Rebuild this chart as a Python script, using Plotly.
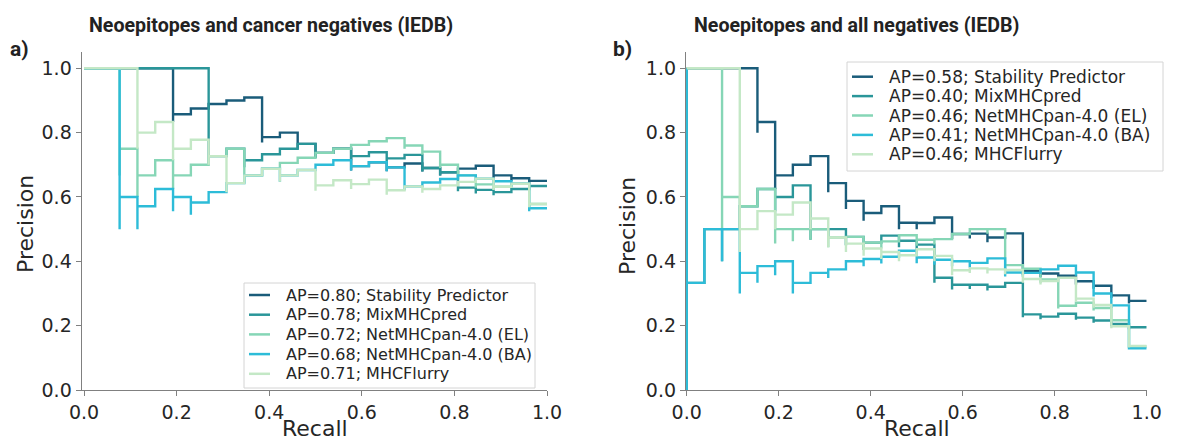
import plotly.graph_objects as go

# ---------------- data ----------------
# recall grid: steps of one positive out of 26
RECALL = [0.0, 0.0385, 0.0769, 0.1154, 0.1538, 0.1923, 0.2308, 0.2692, 0.3077,
          0.3462, 0.3846, 0.4231, 0.4615, 0.5, 0.5385, 0.5769, 0.6154, 0.6538,
          0.6923, 0.7308, 0.7692, 0.8077, 0.8462, 0.8846, 0.9231, 0.9615, 1.0]

MODELS = ["Stability Predictor", "MixMHCpred", "NetMHCpan-4.0 (EL)",
          "NetMHCpan-4.0 (BA)", "MHCFlurry"]
COLORS = ["#1a5c7a", "#2a9699", "#86d6b6", "#2dbcd8", "#c4e8c6"]

AP_A = ["0.80", "0.78", "0.72", "0.68", "0.71"]
AP_B = ["0.58", "0.40", "0.46", "0.41", "0.46"]

# panel a) precision held on each recall step (k-1, k], and dips at recall k
a_stab_lvl = [1, 1, 1, 1, 1, .857, .875, .889, .9, .909, .786, .8, .765, .737, .75,
              .696, .708, .692, .704, .690, .677, .688, .697, .667, .658, .65]
a_stab_dip = {5: .833, 10: .769, 12: .75, 13: .722, 15: .682, 17: .68, 19: .679,
              20: .667, 23: .657, 24: .649, 25: .641}
a_mix_lvl = [1, 1, 1, 1, 1, 1, 1, .727, .75, .714, .733, .75, .765, .737, .75,
             .727, .739, .72, .731, .69, .677, .629, .622, .615, .625, .634]
a_mix_dip = {7: .7, 9: .692, 13: .722, 15: .714, 17: .708, 19: .679, 20: .667,
             21: .618, 22: .611, 23: .605}
a_el_lvl = [1, 1, .75, .667, .714, .667, .7, .727, .75, .667, .6875, .706, .722,
            .737, .75, .762, .773, .783, .76, .741, .7, .667, .639, .632, .641, .578]
a_el_dip = {2: .667, 3: .6, 5: .625, 9: .643, 18: .75, 19: .731, 20: .69,
            21: .656, 22: .629, 23: .622, 25: .568}
a_ba_lvl = [1, 1, .6, .571, .625, .6, .583, .615, .643, .667, .6875, .667, .684,
            .7, .714, .696, .708, .692, .633, .645, .656, .667, .657, .649, .641, .565]
a_ba_dip = {2: .5, 3: .5, 5: .556, 6: .545, 11: .647, 15: .682, 17: .68, 18: .621,
            22: .647, 23: .639, 24: .632, 25: .556}
a_flu_lvl = [1, 1, 1, .8, .833, .75, .778, .727, .643, .667, .6875, .667, .684,
             .636, .652, .64, .654, .621, .633, .625, .636, .647, .657, .632, .641, .578]
a_flu_dip = {3: .75, 5: .714, 7: .7, 8: .615, 11: .647, 13: .619, 15: .625,
             17: .607, 19: .613, 23: .622, 25: .568}

# panel b)
b_stab_lvl = [1, 1, 1, 1, .833, .667, .7, .727, .643, .588, .55, .571, .52, .519,
              .536, .485, .486, .474, .487, .37, .362, .355, .338, .324, .294, .277]
b_stab_dip = {4: .8, 5: .625, 8: .615, 9: .5625, 10: .526, 12: .5, 13: .5, 15: .469,
              16: .471, 17: .459, 19: .358, 20: .351, 21: .344, 22: .328, 23: .315,
              24: .286, 25: .269}
b_mix_lvl = [.333, .5, .5, .571, .625, .6, .636, .5, .5, .476, .458, .48, .464, .452,
             .349, .327, .327, .321, .333, .235, .228, .237, .225, .216, .205, .195]
b_mix_dip = {0: 0.0, 2: .4, 5: .556, 7: .467, 8: .471, 9: .45, 10: .435, 12: .444,
             13: .433, 14: .333, 15: .3125, 16: .314, 17: .309, 19: .226, 20: .22,
             22: .218, 23: .209, 24: .198, 25: .189}
b_el_lvl = [1, 1, .6, .571, .625, .5, .5, .5, .474, .476, .458, .462, .481, .467,
            .469, .485, .5, .5, .388, .377, .344, .262, .271, .255, .217, .135]
b_el_dip = {2: .5, 3: .5, 5: .455, 6: .462, 7: .467, 8: .444, 9: .45, 10: .435,
            11: .44, 13: .448, 14: .452, 17: .486, 18: .375, 19: .365, 20: .333,
            21: .253, 23: .247, 24: .211, 25: .13}
b_ba_lvl = [.333, .5, .5, .364, .385, .4, .333, .364, .375, .4, .407, .414, .433,
            .412, .405, .4, .395, .409, .365, .364, .375, .386, .365, .3, .263, .13]
b_ba_dip = {0: 0.0, 2: .4, 3: .3, 4: .333, 5: .357, 6: .3, 8: .348, 10: .385,
            11: .393, 13: .394, 14: .389, 15: .385, 16: .381, 18: .353, 19: .352,
            22: .355, 23: .291, 24: .255, 25: .126}
b_flu_lvl = [1, 1, 1, .5, .556, .545, .583, .533, .474, .455, .44, .429, .419,
             .4375, .417, .372, .378, .375, .373, .345, .339, .349, .284, .264, .198, .137]
b_flu_dip = {3: .429, 5: .5, 7: .5, 8: .444, 9: .429, 10: .417, 11: .407, 12: .4,
             14: .4, 15: .357, 16: .364, 17: .362, 18: .36, 19: .333, 20: .328,
             22: .275, 23: .256, 24: .192, 25: .132}

PANEL_A = [(a_stab_lvl, a_stab_dip), (a_mix_lvl, a_mix_dip), (a_el_lvl, a_el_dip),
           (a_ba_lvl, a_ba_dip), (a_flu_lvl, a_flu_dip)]
PANEL_B = [(b_stab_lvl, b_stab_dip), (b_mix_lvl, b_mix_dip), (b_el_lvl, b_el_dip),
           (b_ba_lvl, b_ba_dip), (b_flu_lvl, b_flu_dip)]


def pr_points(levels, dips):
    xs, ys = [RECALL[0]], [1.0]
    for k in range(1, len(RECALL)):
        if (k - 1) in dips:
            xs.append(RECALL[k - 1])
            ys.append(dips[k - 1])
        xs.append(RECALL[k])
        ys.append(levels[k - 1])
    return xs, ys


# the page body keeps its default 8 px margin, so the figure is drawn 8 px in
OFF = 8
W, H = 1178, 436
TXT = "#262626"
AXC = "#808080"
TICKFONT = dict(family="DejaVu Sans", size=19, color=TXT)


def px(x):
    return (x - OFF) / W


def py(y):
    return 1 - (y - OFF) / H


fig = go.Figure()
for panel, aps, xa, ya in [(PANEL_A, AP_A, "x", "y"), (PANEL_B, AP_B, "x2", "y2")]:
    for i, (lvl, dip) in enumerate(panel):
        xs, ys = pr_points(lvl, dip)
        fig.add_trace(go.Scatter(
            x=xs, y=ys, mode="lines", line=dict(color=COLORS[i], width=2.4, shape="vh"),
            name=f"AP={aps[i]}; {MODELS[i]}", xaxis=xa, yaxis=ya,
            showlegend=False, hoverinfo="skip"))

ticks = [0, 0.2, 0.4, 0.6, 0.8, 1.0]
ticktext = ["0.0", "0.2", "0.4", "0.6", "0.8", "1.0"]
ax_common = dict(tickvals=ticks, ticktext=ticktext, ticks="outside", ticklen=5,
                 tickwidth=1.2, tickcolor=AXC, showline=True, linecolor=AXC,
                 linewidth=1.3, showgrid=False, zeroline=False, tickfont=TICKFONT,
                 automargin=False)
ydom = [py(390), py(52.2)]

fig.update_layout(
    width=W, height=H, autosize=False,
    margin=dict(l=0, r=0, t=0, b=0, pad=0),
    paper_bgcolor="white", plot_bgcolor="white",
    xaxis=dict(domain=[px(81.7), px(547)], range=[-0.005, 1.0], anchor="y", **ax_common),
    yaxis=dict(domain=ydom, range=[0, 1.05], anchor="x", **ax_common),
    xaxis2=dict(domain=[px(686), px(1146.7)], range=[-0.0015, 1.0], anchor="y2", **ax_common),
    yaxis2=dict(domain=ydom, range=[0, 1.05], anchor="x2", **ax_common),
    showlegend=False,
)

# ---- axis titles ----
lab_font = dict(family="DejaVu Sans", size=22, color=TXT)
for cx in (315, 916.7):
    fig.add_annotation(text="Recall", x=px(cx), y=py(443), xref="paper", yref="paper",
                       showarrow=False, font=lab_font, xanchor="center", yanchor="bottom")
for cx, cy in ((25, 224), (627, 226)):
    fig.add_annotation(text="Precision", x=px(cx), y=py(cy), xref="paper", yref="paper",
                       showarrow=False, font=lab_font, textangle=-90,
                       xanchor="center", yanchor="middle")

# ---- panel titles and letters ----
title_font = dict(family="Roboto", size=19.6, color="#222222")
fig.add_annotation(text="<b>Neoepitopes and cancer negatives (IEDB)</b>", x=px(271), y=py(25),
                   xref="paper", yref="paper", showarrow=False, font=title_font,
                   xanchor="center", yanchor="middle")
fig.add_annotation(text="<b>Neoepitopes and all negatives (IEDB)</b>", x=px(856), y=py(25),
                   xref="paper", yref="paper", showarrow=False, font=title_font,
                   xanchor="center", yanchor="middle")
for lab, cx in (("a)", 19), ("b)", 622)):
    fig.add_annotation(text=f"<b>{lab}</b>", x=px(cx), y=py(49), xref="paper", yref="paper",
                       showarrow=False, font=dict(family="Roboto", size=21, color="#222222"),
                       xanchor="center", yanchor="middle")

# ---- legends (drawn as boxes, line swatches and labels) ----
LEGENDS = [
    # box left, top, right, bottom, swatch x0, x1, text x, first row y, row step, font size, APs
    (244, 283, 535, 388, 249, 270, 284, 295, 19.7, 16, AP_A),
    (847, 62, 1163, 171, 852, 873, 887, 76.7, 19.4, 17, AP_B),
]
for bx0, by0, bx1, by1, sx0, sx1, tx, ry0, rstep, fs, aps in LEGENDS:
    fig.add_shape(type="rect", xref="paper", yref="paper",
                  x0=px(bx0), x1=px(bx1), y0=py(by1), y1=py(by0),
                  line=dict(color="#d4d4d4", width=1), fillcolor="rgba(255,255,255,0.85)",
                  layer="above")
    for i in range(len(MODELS)):
        yy = ry0 + i * rstep
        fig.add_shape(type="line", xref="paper", yref="paper",
                      x0=px(sx0), x1=px(sx1), y0=py(yy), y1=py(yy),
                      line=dict(color=COLORS[i], width=2.5), layer="above")
        fig.add_annotation(text=f"AP={aps[i]}; {MODELS[i]}", x=px(tx), y=py(yy),
                           xref="paper", yref="paper", showarrow=False,
                           font=dict(family="DejaVu Sans", size=fs, color=TXT),
                           xanchor="left", yanchor="middle")

fig.write_html("out.html")
